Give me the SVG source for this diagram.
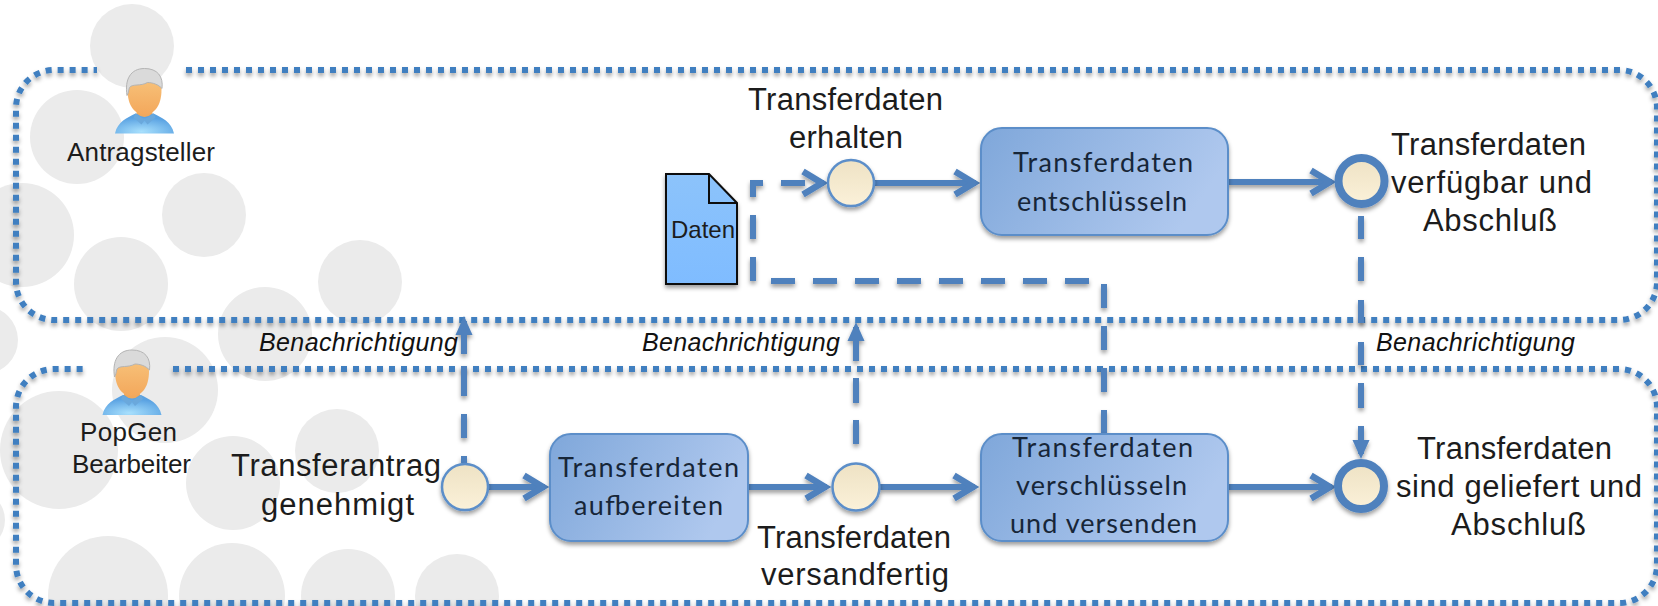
<svg xmlns="http://www.w3.org/2000/svg" xmlns:xlink="http://www.w3.org/1999/xlink" width="1658" height="606" viewBox="0 0 1658 606">
<style>
.bg{fill:#ebebeb}
.pool{fill:none;stroke:#3f7fc0;stroke-width:6;stroke-dasharray:6 6}
.solid{fill:none;stroke:#4f81bd;stroke-width:6;marker-end:url(#chev)}
.dash{fill:none;stroke:#4f81bd;stroke-width:6}
.task{fill:url(#taskFill);stroke:#5b8ec9;stroke-width:2}
.ev{fill:url(#evFill);stroke:#5b8ec9;stroke-width:2.5}
.end{fill:url(#evFill);stroke:#4f81bd;stroke-width:8}
text{font-family:"Liberation Sans",Arial,sans-serif;fill:#1c1c1c}
.big{font-size:31px}
.act{font-size:26px}
.note{font-size:25px;font-style:italic;fill:#111}
.tsk{font-family:Lato,"Liberation Sans",sans-serif;font-size:27px;fill:#172638}
</style>
<defs>
<linearGradient id="taskFill" x1="0" y1="0" x2="1" y2="0.3"><stop offset="0" stop-color="#7fa7da"/><stop offset="1" stop-color="#afc8ee"/></linearGradient>
<linearGradient id="evFill" x1="0" y1="0" x2="0" y2="1"><stop offset="0" stop-color="#eee2c4"/><stop offset="1" stop-color="#fbf1d9"/></linearGradient>
<linearGradient id="docFill" x1="0" y1="0" x2="0" y2="1"><stop offset="0" stop-color="#8cc3fb"/><stop offset="1" stop-color="#7fbcff"/></linearGradient>
<linearGradient id="faceFill" x1="0" y1="0" x2="0" y2="1"><stop offset="0" stop-color="#f8c47c"/><stop offset="1" stop-color="#f3a85c"/></linearGradient>
<radialGradient id="shirtFill" cx="0.45" cy="0.9" r="0.7"><stop offset="0" stop-color="#a8e0fd"/><stop offset="1" stop-color="#5aa2e2"/></radialGradient>
<filter id="sh" filterUnits="userSpaceOnUse" x="0" y="0" width="1658" height="606"><feDropShadow dx="0" dy="3" stdDeviation="2.2" flood-color="#000" flood-opacity="0.38"/></filter>
<marker id="chev" markerUnits="userSpaceOnUse" markerWidth="36" markerHeight="36" viewBox="-30 -18 36 36" refX="-3" refY="0" orient="auto"><path d="M-24,-11.5 L-5,0 L-24,11.5" fill="none" stroke="#4f81bd" stroke-width="6.5"/></marker>
<marker id="tri" markerUnits="userSpaceOnUse" markerWidth="30" markerHeight="24" viewBox="-24 -12 30 24" refX="-5" refY="0" orient="auto"><path d="M-19,-8.5 L0,0 L-19,8.5 Z" fill="#4f81bd"/></marker>
<symbol id="person" width="60" height="67" viewBox="0 0 60 67" overflow="visible">
<path d="M0.5,66 C3,54 13,50 21,46 L39,46 C47,50 57,54 59.5,66 Z" fill="url(#shirtFill)"/>
<path d="M21,46 L30,52 L39,46 L41,50 L33,57 L30,53 L27,57 L19,50 Z" fill="#6aa8dc"/>
<path d="M23,38 L37,38 L38,46 Q30,53 22,46 Z" fill="#f0a85c"/>
<path d="M13,22 C13,38 20,47 30,47 C40,47 47,38 47,22 C47,12 40,8 30,8 C20,8 13,12 13,22 Z" fill="url(#faceFill)"/>
<path d="M12.5,28 C10,12 16,1 30,1 C43,1 49,9 47.5,21 C44,17 38,15 33,15 C26,19 18,16 15,20 C14,23 14,26 12.5,28 Z" fill="#dadada" stroke="#b4b4b4" stroke-width="1"/>
</symbol>
</defs>

<g id="background">
<circle class="bg" cx="132" cy="46" r="42"/><circle class="bg" cx="77" cy="137" r="47"/><circle class="bg" cx="22" cy="235" r="52"/>
<circle class="bg" cx="204" cy="215" r="42"/><circle class="bg" cx="121" cy="284" r="47"/><circle class="bg" cx="360" cy="282" r="42"/>
<circle class="bg" cx="265" cy="334" r="47"/><circle class="bg" cx="-16" cy="340" r="34"/><circle class="bg" cx="165" cy="390" r="53"/>
<circle class="bg" cx="59" cy="450" r="59"/><circle class="bg" cx="233" cy="483" r="47"/><circle class="bg" cx="337" cy="451" r="42"/>
<circle class="bg" cx="-25" cy="520" r="30"/><circle class="bg" cx="108" cy="596" r="60"/><circle class="bg" cx="232" cy="596" r="53"/>
<circle class="bg" cx="348" cy="596" r="47"/><circle class="bg" cx="457" cy="596" r="42"/>
</g>

<g id="pools" filter="url(#sh)">
<path class="pool" d="M186,70 H1619 A38,38 0 0 1 1657,108 V282 A38,38 0 0 1 1619,320 H54 A38,38 0 0 1 16,282 V108 A38,38 0 0 1 54,70 H97"/>
<path class="pool" d="M173,369 H1619 A38,38 0 0 1 1657,407 V565 A38,38 0 0 1 1619,603 H54 A38,38 0 0 1 16,565 V407 A38,38 0 0 1 54,369 H83"/>
</g>

<g id="connectors" filter="url(#sh)">
<path class="solid" d="M488,487 H545"/>
<path class="solid" d="M748,487 H827"/>
<path class="solid" d="M880,487 H975"/>
<path class="solid" d="M1228,487 H1332"/>
<path class="solid" d="M875,183 H976"/>
<path class="solid" d="M1228,182 H1332"/>
<path class="dash" style="marker-end:url(#chev)" stroke-dasharray="24 18" d="M1104,434 V281 H753 V183 H824"/>
<path class="dash" style="marker-end:url(#tri)" stroke-dasharray="7 18 24 18 30 12 40" d="M464,463 V321"/>
<path class="dash" style="marker-end:url(#tri)" stroke-dasharray="24 17 25 17 40" d="M856,444 V327"/>
<path class="dash" style="marker-end:url(#tri)" stroke-dasharray="23 18 24 19 23 19 23 18 25 18 28 100" d="M1361,216 V454"/>
</g>

<g id="actor-antragsteller">
<use href="#person" xlink:href="#person" x="114.500" y="67.500"/>
<text class="act" x="67" y="161" textLength="148" lengthAdjust="spacing">Antragsteller</text>
</g>
<g id="actor-popgen">
<use href="#person" xlink:href="#person" x="102" y="349"/>
<text class="act" x="80" y="441" textLength="97" lengthAdjust="spacing">PopGen</text>
<text class="act" x="72" y="473" textLength="119" lengthAdjust="spacing">Bearbeiter</text>
</g>

<g id="note-1"><text class="note" x="259" y="351" textLength="199" lengthAdjust="spacing">Benachrichtigung</text></g>
<g id="note-2"><text class="note" x="642" y="351" textLength="198" lengthAdjust="spacing">Benachrichtigung</text></g>
<g id="note-3"><text class="note" x="1376" y="351" textLength="199" lengthAdjust="spacing">Benachrichtigung</text></g>

<g id="doc-daten" filter="url(#sh)">
<path d="M666,174 H709 L737,203 V284 H666 Z" fill="url(#docFill)" stroke="#111" stroke-width="2"/>
<path d="M709,174 V203 H737" fill="none" stroke="#111" stroke-width="2"/>
</g>
<g id="doc-daten-label"><text x="671" y="238" font-size="24" textLength="64" lengthAdjust="spacing">Daten</text></g>

<g id="ev-erhalten">
<circle class="ev" cx="851" cy="183" r="23" filter="url(#sh)"/>
<text class="big" x="748" y="110" textLength="195" lengthAdjust="spacing">Transferdaten</text>
<text class="big" x="789" y="148" textLength="114" lengthAdjust="spacing">erhalten</text>
</g>
<g id="task-entschluesseln">
<rect class="task" x="981" y="128" width="247" height="107" rx="21" filter="url(#sh)"/>
<text class="tsk" x="1013" y="172" textLength="180" lengthAdjust="spacing">Transferdaten</text>
<text class="tsk" x="1017" y="211" textLength="170" lengthAdjust="spacing">entschlüsseln</text>
</g>
<g id="ev-verfuegbar">
<circle class="end" cx="1361.500" cy="181" r="23" filter="url(#sh)"/>
<text class="big" x="1391" y="155" textLength="195" lengthAdjust="spacing">Transferdaten</text>
<text class="big" x="1391" y="193" textLength="201" lengthAdjust="spacing">verfügbar und</text>
<text class="big" x="1423" y="231" textLength="134" lengthAdjust="spacing">Abschluß</text>
</g>
<g id="ev-genehmigt">
<circle class="ev" cx="465" cy="487" r="23" filter="url(#sh)"/>
<text class="big" x="231" y="476" textLength="210" lengthAdjust="spacing">Transferantrag</text>
<text class="big" x="261" y="515" textLength="153" lengthAdjust="spacing">genehmigt</text>
</g>
<g id="task-aufbereiten">
<rect class="task" x="550" y="434" width="198" height="107" rx="21" filter="url(#sh)"/>
<text class="tsk" x="558" y="477" textLength="181" lengthAdjust="spacing">Transferdaten</text>
<text class="tsk" x="574" y="515" textLength="149" lengthAdjust="spacing">aufbereiten</text>
</g>
<g id="ev-versandfertig">
<circle class="ev" cx="856" cy="487" r="23.500" filter="url(#sh)"/>
<text class="big" x="757" y="548" textLength="194" lengthAdjust="spacing">Transferdaten</text>
<text class="big" x="761" y="585" textLength="188" lengthAdjust="spacing">versandfertig</text>
</g>
<g id="task-verschluesseln">
<rect class="task" x="981" y="434" width="247" height="107" rx="21" filter="url(#sh)"/>
<text class="tsk" x="1012" y="457" textLength="181" lengthAdjust="spacing">Transferdaten</text>
<text class="tsk" x="1016" y="495" textLength="171" lengthAdjust="spacing">verschlüsseln</text>
<text class="tsk" x="1010" y="533" textLength="187" lengthAdjust="spacing">und versenden</text>
</g>
<g id="ev-geliefert">
<circle class="end" cx="1361" cy="486" r="23" filter="url(#sh)"/>
<text class="big" x="1417" y="459" textLength="195" lengthAdjust="spacing">Transferdaten</text>
<text class="big" x="1396" y="497" textLength="246" lengthAdjust="spacing">sind geliefert und</text>
<text class="big" x="1451" y="535" textLength="135" lengthAdjust="spacing">Abschluß</text>
</g>
</svg>
